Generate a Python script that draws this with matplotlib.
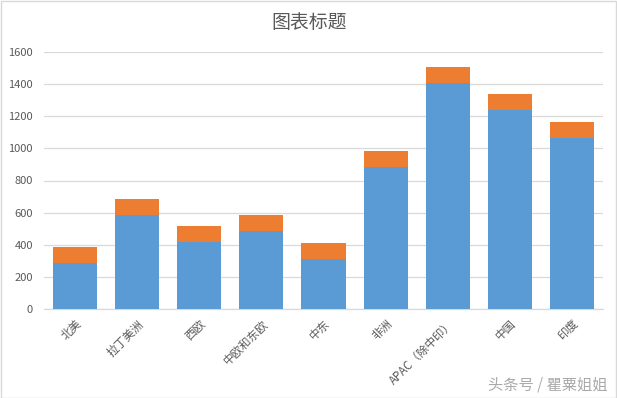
import matplotlib
matplotlib.use("Agg")
import matplotlib.pyplot as plt
from matplotlib.patches import Rectangle

plt.rcParams['font.family'] = ['Noto Sans CJK SC', 'DejaVu Sans']

categories = ['北美', '拉丁美洲', '西欧', '中欧和东欧', '中东', '非洲', 'APAC（除中印）', '中国', '印度']
series1 = [285, 585, 415, 485, 310, 885, 1405, 1240, 1065]
series2 = [100, 100, 100, 100, 100, 100, 100, 100, 100]
yticks = [0, 200, 400, 600, 800, 1000, 1200, 1400, 1600]

fig = plt.figure(figsize=(6.17, 3.98), dpi=100)
ax = fig.add_axes([44/617, 1 - 309/398, 559/617, 257/398])

x = range(len(categories))
ax.bar(x, series1, width=0.71, color='#5b9bd5', zorder=3)
ax.bar(x, series2, bottom=series1, width=0.71, color='#ed7d31', zorder=3)

ax.set_xlim(-0.5, len(categories) - 0.5)
ax.set_ylim(0, 1600)
ax.set_yticks(yticks)
ax.set_yticklabels([str(v) for v in yticks], fontsize=8, color='#595959')
ax.set_xticks(list(x))
ax.set_xticklabels(categories, rotation=45, ha='right', rotation_mode='anchor',
                   fontsize=8.3, color='#595959')
ax.tick_params(axis='y', length=0, pad=8)
ax.tick_params(axis='x', length=0, pad=6)
ax.grid(axis='y', color='#d9d9d9', linewidth=0.9, zorder=0)
for s in ['top', 'right', 'left']:
    ax.spines[s].set_visible(False)
ax.spines['bottom'].set_color('#d9d9d9')
ax.spines['bottom'].set_linewidth(0.9)

fig.text(309/617, 1 - 23/398, '图表标题', ha='center', va='center', fontsize=13.6, color='#595959')
fig.text(548/617, 1 - 385/398, '头条号 / 瞿粟姐姐', ha='center', va='center', fontsize=11, color='#aaaaaa')

fig.patches.append(Rectangle((0.5/617, 0.5/398), 1 - 1.5/617, 1 - 1.5/398, transform=fig.transFigure,
                             fill=False, edgecolor='#d9d9d9', linewidth=1))

fig.savefig('out.png', dpi=100)
